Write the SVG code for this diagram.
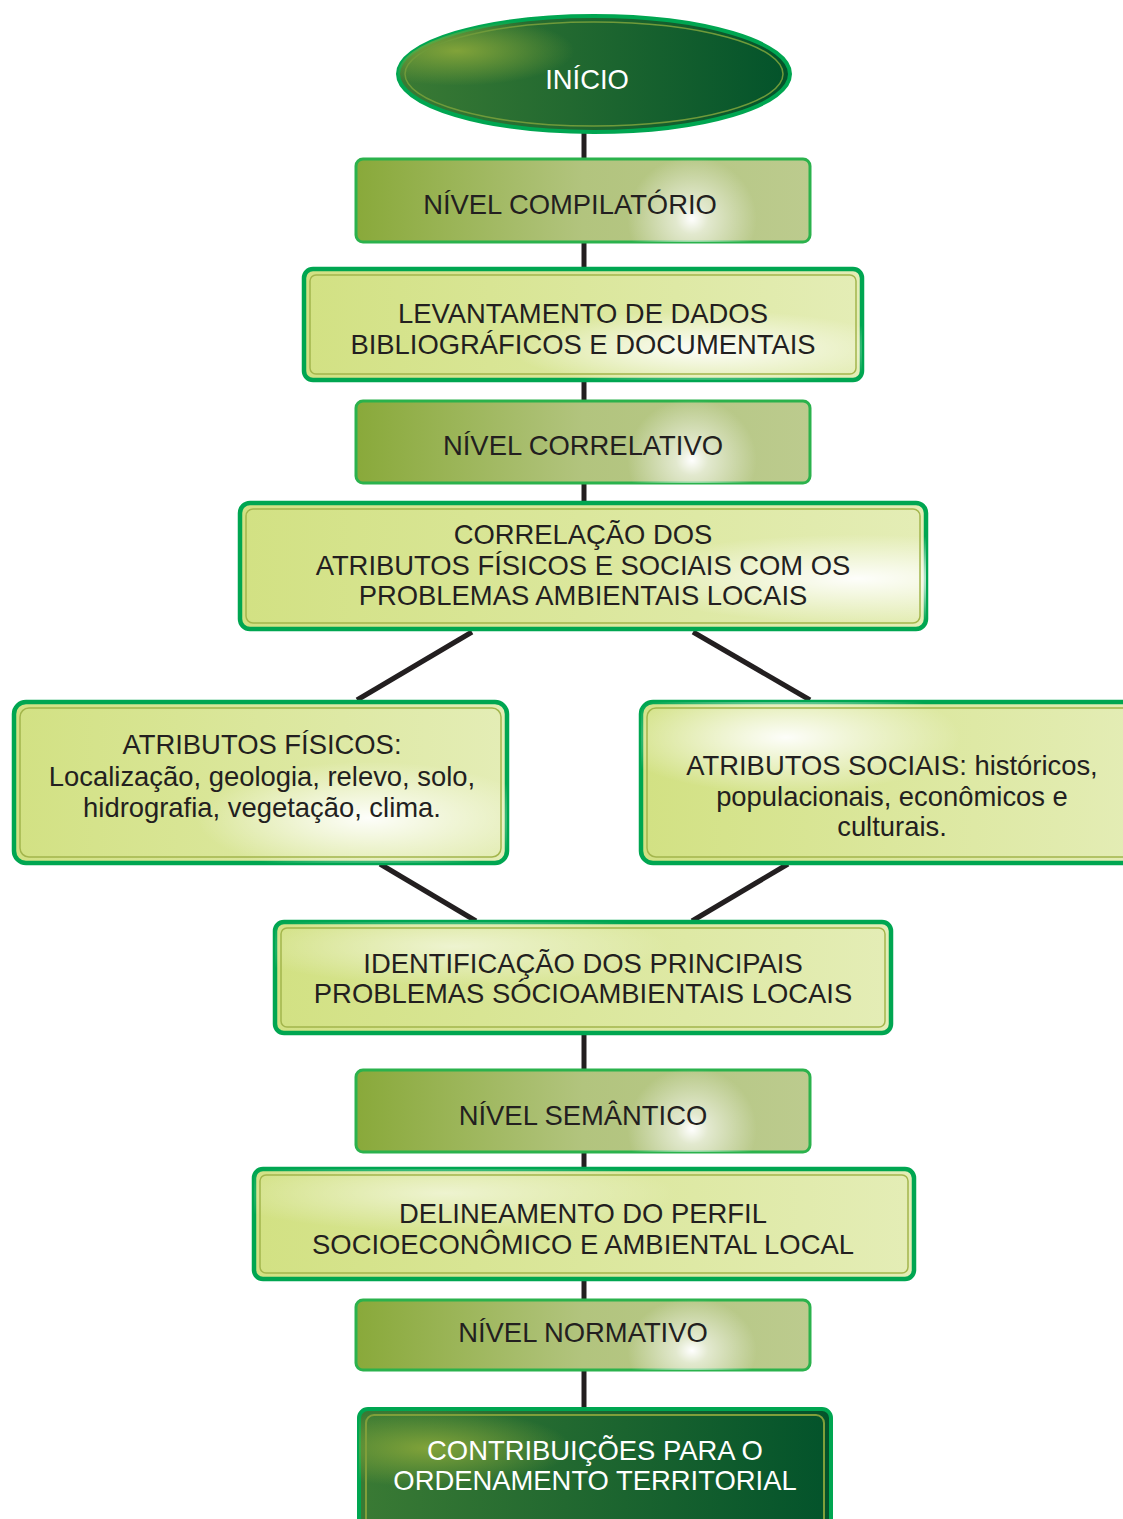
<svg xmlns="http://www.w3.org/2000/svg" width="1123" height="1519" viewBox="0 0 1123 1519">
<style>
text{font-family:"Liberation Sans",Arial,sans-serif;font-size:27.4px;fill:#231f20;text-anchor:middle}
.w{fill:#ffffff}
.conn{stroke:#231f20;stroke-width:5;fill:none}
.lo{fill:url(#lgLight);stroke:#00a651;stroke-width:4.5}
.li{fill:none;stroke:#a3b54c;stroke-width:1.5}
.nv{fill:url(#lgNivel);stroke:#2bb24c;stroke-width:3}
.dk{fill:url(#lgDark);stroke:#00a651;stroke-width:4}
.di{fill:none;stroke:#7f9f3a;stroke-width:2}
</style>
<defs>
<linearGradient id="lgLight" x1="0" y1="0" x2="1" y2="0">
<stop offset="0" stop-color="#d2e183"/>
<stop offset="1" stop-color="#e4edb6"/>
</linearGradient>
<linearGradient id="lgNivel" x1="0" y1="0" x2="1" y2="0">
<stop offset="0" stop-color="#89a93a"/>
<stop offset="0.5" stop-color="#b2c47e"/>
<stop offset="1" stop-color="#bccb8e"/>
</linearGradient>
<linearGradient id="lgDark" x1="0" y1="0" x2="1" y2="0">
<stop offset="0" stop-color="#3a7a34"/>
<stop offset="1" stop-color="#03532b"/>
</linearGradient>
<radialGradient id="hlNivel" cx="0.74" cy="0.72" r="0.75" gradientTransform="translate(0.74 0.72) scale(0.19 1) translate(-0.74 -0.72)">
<stop offset="0" stop-color="#ffffff" stop-opacity="1"/>
<stop offset="0.25" stop-color="#ffffff" stop-opacity="0.6"/>
<stop offset="1" stop-color="#ffffff" stop-opacity="0"/>
</radialGradient>
<radialGradient id="hlRight" cx="0.9" cy="0.6" r="0.35">
<stop offset="0" stop-color="#ffffff" stop-opacity="0.95"/>
<stop offset="1" stop-color="#ffffff" stop-opacity="0"/>
</radialGradient>
<radialGradient id="hlCenter" cx="0.72" cy="0.72" r="0.35">
<stop offset="0" stop-color="#ffffff" stop-opacity="0.95"/>
<stop offset="1" stop-color="#ffffff" stop-opacity="0"/>
</radialGradient>
<radialGradient id="hlLeftTop" cx="0.29" cy="0.22" r="0.35">
<stop offset="0" stop-color="#ffffff" stop-opacity="0.95"/>
<stop offset="1" stop-color="#ffffff" stop-opacity="0"/>
</radialGradient>
<radialGradient id="hlDark" cx="0.15" cy="0.3" r="0.3">
<stop offset="0" stop-color="#8aa83a" stop-opacity="0.9"/>
<stop offset="1" stop-color="#8aa83a" stop-opacity="0"/>
</radialGradient>
</defs>

<g id="connectors">
<line class="conn" x1="584" y1="133" x2="584" y2="160"/>
<line class="conn" x1="584" y1="242" x2="584" y2="270"/>
<line class="conn" x1="584" y1="381" x2="584" y2="402"/>
<line class="conn" x1="584" y1="483" x2="584" y2="504"/>
<line class="conn" x1="472" y1="632" x2="357" y2="700"/>
<line class="conn" x1="693" y1="632" x2="810" y2="700"/>
<line class="conn" x1="380" y1="864" x2="476" y2="921"/>
<line class="conn" x1="788" y1="864" x2="692" y2="921"/>
<line class="conn" x1="584" y1="1034" x2="584" y2="1071"/>
<line class="conn" x1="584" y1="1152" x2="584" y2="1170"/>
<line class="conn" x1="584" y1="1280" x2="584" y2="1301"/>
<line class="conn" x1="584" y1="1370" x2="584" y2="1410"/>
</g>

<g id="inicio">
<ellipse cx="594" cy="74" rx="196" ry="58" fill="url(#lgDark)" stroke="#00a651" stroke-width="4"/>
<ellipse cx="594" cy="74" rx="196" ry="58" fill="url(#hlDark)"/>
<ellipse cx="594" cy="74" rx="189" ry="52" fill="none" stroke="#6f9a3a" stroke-width="1.5"/>
<text class="w" x="587" y="89">INÍCIO</text>
</g>

<g id="nivel-compilatorio">
<rect class="nv" x="356" y="159" width="454" height="83" rx="7"/>
<rect x="356" y="159" width="454" height="83" rx="7" fill="url(#hlNivel)"/>
<text x="570" y="214">NÍVEL COMPILATÓRIO</text>
</g>

<g id="levantamento">
<rect class="lo" x="304" y="269" width="558" height="111" rx="9"/>
<rect x="304" y="269" width="558" height="111" rx="9" fill="url(#hlCenter)"/>
<rect class="li" x="310" y="275" width="546" height="99" rx="6"/>
<text x="583" y="323">LEVANTAMENTO DE DADOS</text>
<text x="583" y="354">BIBLIOGRÁFICOS E DOCUMENTAIS</text>
</g>

<g id="nivel-correlativo">
<rect class="nv" x="356" y="401" width="454" height="82" rx="7"/>
<rect x="356" y="401" width="454" height="82" rx="7" fill="url(#hlNivel)"/>
<text x="583" y="455">NÍVEL CORRELATIVO</text>
</g>

<g id="correlacao">
<rect class="lo" x="240" y="503" width="686" height="126" rx="10"/>
<rect x="240" y="503" width="686" height="126" rx="10" fill="url(#hlRight)"/>
<rect class="li" x="246" y="509" width="674" height="114" rx="7"/>
<text x="583" y="544">CORRELAÇÃO DOS</text>
<text x="583" y="575">ATRIBUTOS FÍSICOS E SOCIAIS COM OS</text>
<text x="583" y="605">PROBLEMAS AMBIENTAIS LOCAIS</text>
</g>

<g id="atributos-fisicos">
<rect class="lo" x="14" y="702" width="493" height="161" rx="12"/>
<rect x="14" y="702" width="493" height="161" rx="12" fill="url(#hlCenter)"/>
<rect class="li" x="20" y="708" width="481" height="149" rx="9"/>
<text x="262" y="754">ATRIBUTOS FÍSICOS:</text>
<text x="262" y="786">Localização, geologia, relevo, solo,</text>
<text x="262" y="817">hidrografia, vegetação, clima.</text>
</g>

<g id="atributos-sociais">
<rect class="lo" x="641" y="702" width="500" height="161" rx="12"/>
<rect x="641" y="702" width="500" height="161" rx="12" fill="url(#hlLeftTop)"/>
<rect class="li" x="647" y="708" width="488" height="149" rx="9"/>
<text x="892" y="775">ATRIBUTOS SOCIAIS: históricos,</text>
<text x="892" y="806">populacionais, econômicos e</text>
<text x="892" y="836">culturais.</text>
</g>

<g id="identificacao">
<rect class="lo" x="275" y="922" width="616" height="111" rx="9"/>
<rect x="275" y="922" width="616" height="111" rx="9" fill="url(#hlLeftTop)" opacity="0.6"/>
<rect class="li" x="281" y="928" width="604" height="99" rx="6"/>
<text x="583" y="973">IDENTIFICAÇÃO DOS PRINCIPAIS</text>
<text x="583" y="1003">PROBLEMAS SÓCIOAMBIENTAIS LOCAIS</text>
</g>

<g id="nivel-semantico">
<rect class="nv" x="356" y="1070" width="454" height="82" rx="7"/>
<rect x="356" y="1070" width="454" height="82" rx="7" fill="url(#hlNivel)"/>
<text x="583" y="1125">NÍVEL SEMÂNTICO</text>
</g>

<g id="delineamento">
<rect class="lo" x="254" y="1169" width="660" height="110" rx="9"/>
<rect x="254" y="1169" width="660" height="110" rx="9" fill="url(#hlLeftTop)" opacity="0.6"/>
<rect class="li" x="260" y="1175" width="648" height="98" rx="6"/>
<text x="583" y="1223">DELINEAMENTO DO PERFIL</text>
<text x="583" y="1254">SOCIOECONÔMICO E AMBIENTAL LOCAL</text>
</g>

<g id="nivel-normativo">
<rect class="nv" x="356" y="1300" width="454" height="70" rx="7"/>
<rect x="356" y="1300" width="454" height="70" rx="7" fill="url(#hlNivel)"/>
<text x="583" y="1342">NÍVEL NORMATIVO</text>
</g>

<g id="contribuicoes">
<rect class="dk" x="359" y="1409" width="472" height="130" rx="9"/>
<rect x="359" y="1409" width="472" height="130" rx="9" fill="url(#hlDark)"/>
<rect class="di" x="366" y="1415" width="458" height="120" rx="8"/>
<text class="w" x="595" y="1460">CONTRIBUIÇÕES PARA O</text>
<text class="w" x="595" y="1490">ORDENAMENTO TERRITORIAL</text>
</g>
</svg>
